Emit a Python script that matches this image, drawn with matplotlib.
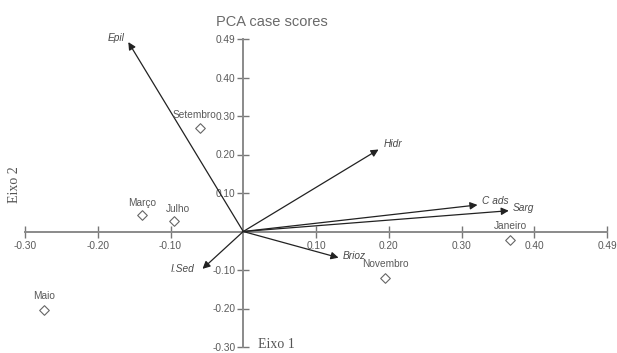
import matplotlib
matplotlib.use("Agg")
import matplotlib.pyplot as plt

# --- data ---
case_names = ["Setembro", "Março", "Julho", "Maio", "Janeiro", "Novembro"]
case_x = [-0.059, -0.139, -0.095, -0.274, 0.367, 0.195]
case_y = [0.269, 0.044, 0.028, -0.203, -0.021, -0.120]

var_names = ["Epil", "Hidr", "C ads", "Sarg", "Brioz", "I.Sed"]
var_x = [-0.158, 0.186, 0.322, 0.365, 0.131, -0.056]
var_y = [0.492, 0.213, 0.069, 0.054, -0.068, -0.097]

x_ticks = [-0.30, -0.20, -0.10, 0.10, 0.20, 0.30, 0.40, 0.50]
x_tick_labels = ["-0.30", "-0.20", "-0.10", "0.10", "0.20", "0.30", "0.40", "0.49"]
y_ticks = [-0.30, -0.20, -0.10, 0.10, 0.20, 0.30, 0.40, 0.50]
y_tick_labels = ["-0.30", "-0.20", "-0.10", "0.10", "0.20", "0.30", "0.40", "0.49"]

# label offsets (points) and alignment
case_offsets = {"Setembro": (-4, 6), "Março": (0, 5), "Julho": (3, 5),
                "Maio": (0, 6), "Janeiro": (0, 6), "Novembro": (0, 6)}
var_offsets = {"Epil": (-3, 3, "right"), "Hidr": (4, 4, "left"),
               "C ads": (3, 3, "left"), "Sarg": (3, 2, "left"),
               "Brioz": (3, 1, "left"), "I.Sed": (-6, 0, "right")}

gray = "#8a8a8a"
txt = "#5a5a5a"

fig = plt.figure(figsize=(6.17, 3.53), dpi=100)
ax = fig.add_axes([25 / 617, 1 - 347 / 353, 582 / 617, 308 / 353])
ax.set_xlim(-0.30, 0.50)
ax.set_ylim(-0.30, 0.50)

for s in ["top", "right"]:
    ax.spines[s].set_visible(False)
for s in ["left", "bottom"]:
    ax.spines[s].set_position("zero")
    ax.spines[s].set_color(gray)
    ax.spines[s].set_linewidth(1.4)

ax.set_xticks(x_ticks)
ax.set_xticklabels(x_tick_labels)
ax.set_yticks(y_ticks)
ax.set_yticklabels(y_tick_labels)
ax.tick_params(axis="both", direction="inout", length=9, width=1.0, color="#777777",
               labelsize=7.3, labelcolor=txt, labelfontfamily="Liberation Sans")
ax.tick_params(axis="x", pad=2)
ax.tick_params(axis="y", pad=1)

# arrows (variables)
for name, vx, vy in zip(var_names, var_x, var_y):
    ax.annotate("", xy=(vx, vy), xytext=(0, 0),
                arrowprops=dict(arrowstyle="-|>", color="#222222", lw=0.9,
                                mutation_scale=11, shrinkA=0, shrinkB=0))
    dx, dy, ha = var_offsets[name]
    ax.annotate(name, xy=(vx, vy), xytext=(dx, dy), textcoords="offset points",
                ha=ha, va="center", fontsize=7.3, style="italic", color="#4a4a4a",
                family="Liberation Sans")

# cases (diamonds)
ax.scatter(case_x, case_y, marker="D", s=24, facecolors="white",
           edgecolors="#666666", linewidths=0.8, zorder=3)
for name, cx, cy in zip(case_names, case_x, case_y):
    dx, dy = case_offsets[name]
    ax.annotate(name, xy=(cx, cy), xytext=(dx, dy), textcoords="offset points",
                ha="center", va="bottom", fontsize=7.3, color="#5a5a5a",
                family="Liberation Sans")

fig.text(272 / 617, 1 - 22 / 353, "PCA case scores", ha="center", va="center",
         fontsize=10.5, color="#6a6a6a", family="Liberation Sans")
fig.text(258 / 617, 1 - 345 / 353, "Eixo 1", ha="left", va="center",
         fontsize=10, color="#555555", family="Liberation Serif")
fig.text(14 / 617, 1 - 185 / 353, "Eixo 2", ha="center", va="center",
         rotation=90, fontsize=10, color="#555555", family="Liberation Serif")

fig.savefig("out.png", dpi=100)
